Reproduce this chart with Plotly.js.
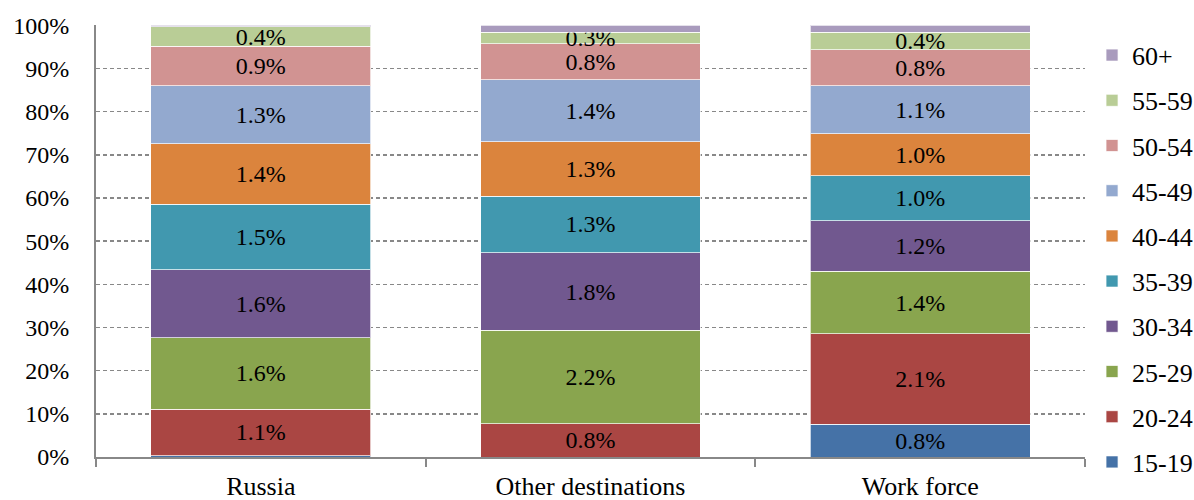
<!DOCTYPE html>
<html>
<head>
<meta charset="utf-8">
<script src="https://cdn.plot.ly/plotly-3.0.1.min.js"></script>
<style>html,body{margin:0;padding:0;background:#fff;}#chart{width:1194px;height:500px;}</style>
</head>
<body>
<div id="chart"></div>
<script>
// Categories (bars)
const categories = ["Russia", "Other destinations", "Work force"];
// Age groups (series), bottom to top
const ageGroups = ["15-19", "20-24", "25-29", "30-34", "35-39", "40-44", "45-49", "50-54", "55-59", "60+"];
// Values (%) per age group for [Russia, Other destinations, Work force]
const v15_19 = [0.03, 0.00, 0.76];
const v20_24 = [1.07, 0.77, 2.09];
const v25_29 = [1.64, 2.18, 1.44];
const v30_34 = [1.56, 1.81, 1.17];
const v35_39 = [1.50, 1.32, 1.04];
const v40_44 = [1.39, 1.27, 0.97];
const v45_49 = [1.33, 1.44, 1.11];
const v50_54 = [0.91, 0.84, 0.83];
const v55_59 = [0.44, 0.27, 0.41];
const v60p   = [0.04, 0.16, 0.16];
const seriesValues = [v15_19, v20_24, v25_29, v30_34, v35_39, v40_44, v45_49, v50_54, v55_59, v60p];
const yTickValues = [0, 10, 20, 30, 40, 50, 60, 70, 80, 90, 100];
const yTickLabels = yTickValues.map(v => v + "%");

const colors = ["#4572A7", "#AA4643", "#89A54E", "#71588F", "#4198AF", "#DB843D", "#93A9CF", "#D19392", "#B9CD96", "#A99BBD"];
const FONT = "Liberation Serif";

const traces = ageGroups.map((name, i) => ({
  type: "bar",
  name: name,
  legendgroup: name,
  legendrank: 1000 - i,
  x: categories,
  y: seriesValues[i],
  text: seriesValues[i].map(v => v >= 0.2 ? v.toFixed(1) + "%" : ""),
  texttemplate: "%{text}",
  textposition: "inside",
  insidetextanchor: "middle",
  constraintext: "none",
  cliponaxis: false,
  textfont: {family: FONT, size: 24, color: "#000"},
  marker: {color: colors[i], line: {color: "rgba(255,255,255,0.7)", width: 1}},
  hoverinfo: "name+y"
}));

const layout = {
  width: 1194, height: 500,
  barmode: "stack",
  barnorm: "percent",
  bargap: 0.333,
  paper_bgcolor: "#fff",
  plot_bgcolor: "#fff",
  font: {family: FONT, size: 24, color: "#000"},
  uniformtext: {mode: "show", minsize: 24},
  margin: {l: 96, r: 109, t: 25, b: 43, pad: 0},
  xaxis: {
    showgrid: false,
    showline: true, linecolor: "#888", linewidth: 2,
    ticks: "outside", tickson: "boundaries", ticklen: 8, tickcolor: "#888", tickwidth: 2,
    ticklabelstandoff: 5,
    tickfont: {family: FONT, size: 26, color: "#000"},
    fixedrange: true
  },
  yaxis: {
    range: [0, 100.05],
    tickvals: yTickValues, ticktext: yTickLabels,
    showgrid: true, gridcolor: "#888", griddash: "4px,3px", gridwidth: 1.5,
    zeroline: false,
    showline: true, linecolor: "#888", linewidth: 2,
    ticks: "", ticklabelstandoff: 20,
    tickfont: {family: FONT, size: 24, color: "#000"},
    fixedrange: true
  },
  legend: {
    xref: "container", yref: "container",
    x: 0.9146, xanchor: "left", y: 0.9366, yanchor: "top",
    maxheight: 480,
    traceorder: "grouped",
    tracegroupgap: 8.4,
    font: {family: FONT, size: 26, color: "#000"},
    bgcolor: "rgba(0,0,0,0)"
  },
  showlegend: true
};

Plotly.newPlot("chart", traces, layout, {displayModeBar: false, staticPlot: true});
</script>
</body>
</html>
